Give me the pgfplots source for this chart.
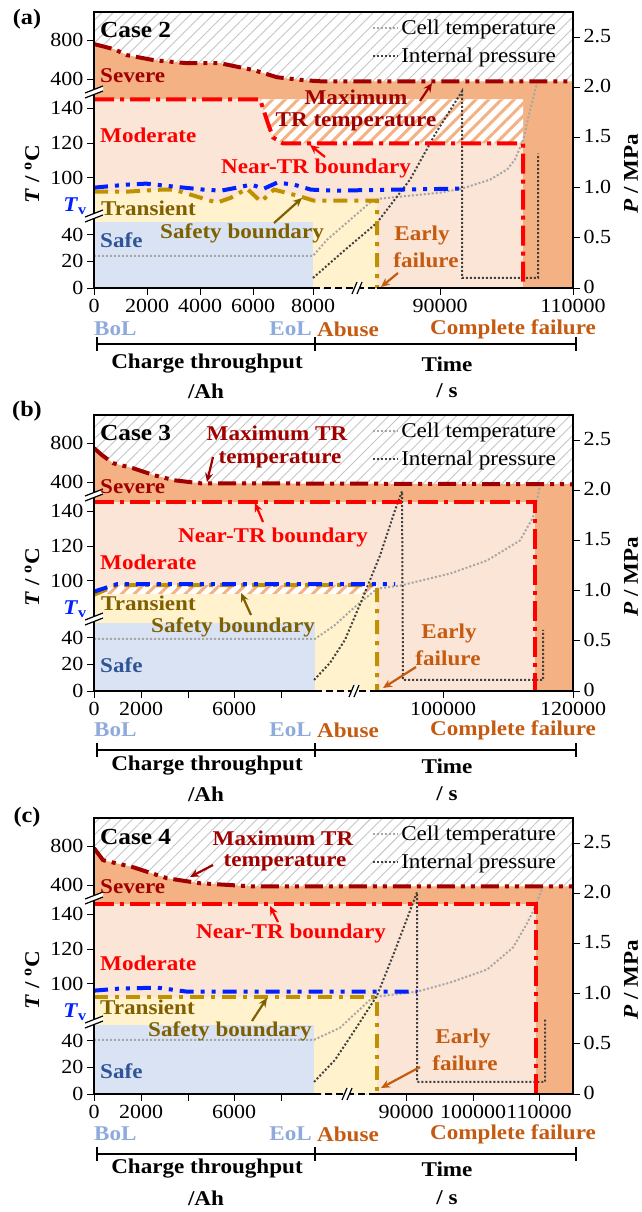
\documentclass[border=0pt]{standalone}
\usepackage{fontspec}
\setmainfont{Liberation Serif}[FakeStretch=1.1]
\usepackage{pgfplots}
\pgfplotsset{compat=1.18}
\usetikzlibrary{patterns.meta,arrows.meta}

\definecolor{salmon}{HTML}{F4B183}
\definecolor{peach}{HTML}{FBE5D6}
\definecolor{lyellow}{HTML}{FFF2CC}
\definecolor{lblue}{HTML}{DAE3F3}
\definecolor{dred}{HTML}{A00000}
\definecolor{tvblue}{HTML}{0020FF}
\definecolor{gold}{HTML}{BF9000}
\definecolor{dgold}{HTML}{7F6000}
\definecolor{safeblue}{HTML}{2F5597}
\definecolor{lifeblue}{HTML}{8FAADC}
\definecolor{burnt}{HTML}{C55A11}
\definecolor{ctgrey}{HTML}{A6A6A6}
\definecolor{prgrey}{HTML}{404040}

\newcommand\fs{\fontsize{21}{25}\selectfont}
\newcommand\ts{\fontsize{20}{24}\selectfont}

\tikzset{
  lab/.style={font=\fs\bfseries, inner sep=0pt},
  arr/.style={line width=2.2pt, -{Stealth[length=9pt,width=8pt]}},
}

\pgfplotsset{
  legend image code/.code={\draw[#1] (0pt,0pt) -- (25pt,0pt);},
  panel/.style={scale only axis, width=479pt, height=276pt,
    xmin=0, xmax=479, ymin=0, ymax=2.75, anchor=south west,
    axis line style={draw=none}, tick align=outside, major tick length=7pt,
    tick style={black, line width=0.8pt}, xtick pos=bottom, ytick pos=left,
    ytick={0,0.265,0.53,1.10,1.445,1.79,2.08,2.47},
    yticklabels={0,20,40,100,120,140,400,800},
    tick label style={font=\ts},
    xticklabel style={yshift=-1pt},
    legend style={at={(0.975,0.985)}, anchor=north east, draw=none, fill=none,
      font=\fs, row sep=8pt, nodes={inner sep=2pt}},
    legend cell align=left},
  rightax/.style={scale only axis, width=479pt, height=276pt,
    xmin=0, xmax=479, ymin=0, ymax=2.75, anchor=south west,
    hide x axis, axis y line*=right, y axis line style={draw=none},
    ytick={0,0.5,1,1.5,2,2.5}, yticklabels={0,0.5,1.0,1.5,2.0,2.5},
    tick align=outside, major tick length=7pt,
    tick style={black, line width=0.8pt}, tick label style={font=\ts},
    yticklabel style={yshift=1pt}},
  area/.style={forget plot, draw=none, fill=#1},
  hatchgrey/.style={forget plot, draw=none,
    pattern={Lines[angle=45,distance=8pt,line width=0.9pt]}, pattern color=gray!45},
  hatchorange/.style={forget plot, draw=none,
    pattern={Lines[angle=45,distance=9pt,line width=3pt]}, pattern color=salmon},
  maxtr/.style={forget plot, dred, line width=4pt,
    dash pattern=on 18pt off 6pt on 4pt off 6pt on 4pt off 6pt},
  neartr/.style={forget plot, red, line width=4pt,
    dash pattern=on 20pt off 6pt on 4pt off 6pt},
  tvline/.style={forget plot, tvblue, line width=4pt,
    dash pattern=on 14pt off 7pt on 4pt off 7pt on 4pt off 7pt},
  safety/.style={forget plot, gold, line width=4pt,
    dash pattern=on 14pt off 7pt on 4pt off 7pt},
  celltemp/.style={ctgrey, line width=2pt, dash pattern=on 2pt off 2pt},
  pressure/.style={prgrey, line width=2pt, dash pattern=on 2pt off 2pt},
}

% frame of one panel: #1 top, #2 EoL x, #3 failure x, #4 break x
\newcommand\frameit[4]{%
  \pgfmathsetmacro\bot{#1+276}
  \pgfmathsetmacro\ua{#1+77}
  \pgfmathsetmacro\ub{#1+201}
  \draw[line width=2.6pt, line join=miter] (94,\bot) -- (94,#1) -- (573,#1) -- (573,\bot);
  \draw[line width=2.6pt] (92.7,\bot) -- (#2,\bot);
  \draw[line width=2.6pt, dash pattern=on 7pt off 4pt] (#2,\bot) -- (#3,\bot);
  \draw[line width=2.6pt] (#3,\bot) -- (574.3,\bot);
  \fill[white] (#4-6,\bot+6) -- (#4-1,\bot-6) -- (#4+4,\bot-6) -- (#4-1,\bot+6) -- cycle;
  \draw[line width=1.2pt] (#4-6,\bot+6) -- (#4-1,\bot-6) (#4-1,\bot+6) -- (#4+4,\bot-6);
  \foreach \u in {\ua,\ub}{
    \fill[white] (85,\u+4) -- (103,\u-3) -- (103,\u+2) -- (85,\u+9) -- cycle;
    \draw[line width=1.2pt] (85,\u+4) -- (103,\u-3) (85,\u+9) -- (103,\u+2);
  }
  \node[lab, rotate=90] at (32,#1+162) {\textit{T} / \textsuperscript{o}C};
  \node[lab, rotate=90] at (631,#1+162) {\textit{P} / MPa};
  \node[lab, tvblue] at (75,#1+194) {\textit{T}\textsubscript{v}};
}

% labels under one panel: #1 status y, #2 bracket y, #3 line 1 y, #4 line 2 y
\newcommand\bottomit[4]{%
  \node[lab, lifeblue, anchor=west] at (94,#1) {BoL};
  \node[lab, lifeblue, anchor=east] at (312,#1) {EoL};
  \node[lab, burnt, anchor=west] at (317,#1) {Abuse};
  \node[lab, burnt, anchor=west] at (430,#1) {Complete failure};
  \draw[line width=1.4pt] (97,#2) -- (576,#2);
  \foreach \xx in {97,315,576} \draw[line width=1.4pt] (\xx,#2-7) -- (\xx,#2+7);
  \node[lab] at (207,#3) {Charge throughput};
  \node[lab] at (206,#4) {/Ah};
  \node[lab] at (447,#3) {Time};
  \node[lab] at (447,#4) {/ s};
}

\begin{document}
\begin{tikzpicture}
\useasboundingbox (0pt,0pt) rectangle (641pt,-1212pt);

% ---------------- (a) Case 2 ----------------
\begin{axis}[panel, at={(94pt,-288pt)},
  xtick={0,53,106,159,219,346,479},
  xticklabels={0,2000,4000,6000,8000,90000,110000}]
\addplot[area=white] coordinates {(0,2.75)(479,2.75)} \closedcycle;
\addplot[hatchgrey] coordinates {(0,2.75)(479,2.75)} \closedcycle;
\addplot[area=salmon] coordinates {(0,2.43)(20,2.38)(33,2.32)(60,2.27)(93,2.24)(126,2.24)(160,2.17)(183,2.10)(210,2.07)(226,2.06)(479,2.06)} \closedcycle;
\addplot[area=peach] coordinates {(0,1.88)(429,1.88)} \closedcycle;
\addplot[area=white] coordinates {(166,1.88)(429,1.88)(429,1.44)(189,1.44)(179,1.50)(174,1.64)} -- cycle;
\addplot[hatchorange] coordinates {(166,1.88)(429,1.88)(429,1.44)(189,1.44)(179,1.50)(174,1.64)} -- cycle;
\addplot[area=lyellow] coordinates {(0,0.96)(33,0.96)(67,0.98)(80,0.98)(123,0.85)(137,0.90)(153,0.99)(167,0.86)(180,0.98)(192,0.95)(207,0.91)(220,0.87)(283,0.87)} \closedcycle;
\addplot[area=lblue] coordinates {(0,0.66)(219,0.66)} \closedcycle;
\addplot[celltemp] coordinates {(0,0.32)(219,0.32)(233,0.48)(255,0.67)(277,0.86)(286,0.89)(316,0.92)(346,0.95)(368,0.99)(396,1.08)(413,1.18)(421,1.28)(429,1.47)(436,1.77)(443,2.04)};
\addlegendentry{Cell temperature}
\addplot[pressure] coordinates {(219,0.10)(251,0.38)(283,0.65)(316,1.08)(341,1.53)(368,1.96)(368,0.10)(444,0.10)(444,1.34)};
\addlegendentry{Internal pressure}
\addplot[neartr] coordinates {(0,1.88)(166,1.88)(174,1.64)(179,1.50)(189,1.44)(429,1.44)(429,0)};
\addplot[maxtr] coordinates {(0,2.43)(20,2.38)(33,2.32)(60,2.27)(93,2.24)(126,2.24)(160,2.17)(183,2.10)(210,2.07)(226,2.06)(479,2.06)};
\addplot[safety] coordinates {(0,0.96)(33,0.96)(67,0.98)(80,0.98)(123,0.85)(137,0.90)(153,0.99)(167,0.86)(180,0.98)(192,0.95)(207,0.91)(220,0.87)(283,0.87)(283,0)};
\addplot[tvline] coordinates {(0,1.00)(33,1.03)(52,1.04)(80,1.01)(110,0.98)(127,0.97)(143,1.00)(157,1.03)(170,0.99)(183,1.05)(200,1.03)(217,0.98)(240,0.97)(300,0.98)(368,0.99)};
\end{axis}
\begin{axis}[rightax, at={(94pt,-288pt)}]
\end{axis}

% ---------------- (b) Case 3 ----------------
\begin{axis}[panel, at={(94pt,-691pt)},
  xtick={0,47,94,140,187,349,479},
  xticklabels={0,2000,,6000,,100000,120000}]
\addplot[area=white] coordinates {(0,2.75)(479,2.75)} \closedcycle;
\addplot[hatchgrey] coordinates {(0,2.75)(479,2.75)} \closedcycle;
\addplot[area=salmon] coordinates {(0,2.42)(8,2.35)(19,2.27)(39,2.22)(60,2.15)(80,2.10)(106,2.07)(479,2.06)} \closedcycle;
\addplot[area=peach] coordinates {(0,1.88)(441,1.88)} \closedcycle;
\addplot[area=white] coordinates {(0,0.965)(283,0.965)(283,1.055)(23,1.055)(0,0.97)} -- cycle;
\addplot[hatchorange] coordinates {(0,0.965)(283,0.965)(283,1.055)(23,1.055)(0,0.97)} -- cycle;
\addplot[area=lyellow] coordinates {(0,0.965)(283,0.965)} \closedcycle;
\addplot[area=lblue] coordinates {(0,0.68)(221,0.68)} \closedcycle;
\addplot[celltemp] coordinates {(0,0.52)(221,0.52)(240,0.65)(260,0.83)(283,1.02)(306,1.05)(356,1.17)(393,1.30)(426,1.50)(439,1.73)(443,1.90)(446,2.05)};
\addlegendentry{Cell temperature}
\addplot[pressure] coordinates {(220,0.11)(236,0.28)(251,0.51)(268,0.91)(286,1.35)(301,1.80)(308,1.99)(309,0.11)(449,0.11)(449,0.61)};
\addlegendentry{Internal pressure}
\addplot[neartr] coordinates {(0,1.88)(441,1.88)(441,0)};
\addplot[maxtr] coordinates {(0,2.42)(8,2.35)(19,2.27)(39,2.22)(60,2.15)(80,2.10)(106,2.07)(479,2.06)};
\addplot[safety] coordinates {(0,0.96)(23,1.055)(283,1.055)(283,0)};
\addplot[tvline] coordinates {(0,0.99)(23,1.065)(301,1.065)};
\end{axis}
\begin{axis}[rightax, at={(94pt,-691pt)}]
\end{axis}

% ---------------- (c) Case 4 ----------------
\begin{axis}[panel, at={(94pt,-1094pt)},
  xtick={0,47,94,140,187,312,379,445},
  xticklabels={0,2000,,6000,,90000,100000,110000}]
\addplot[area=white] coordinates {(0,2.75)(479,2.75)} \closedcycle;
\addplot[hatchgrey] coordinates {(0,2.75)(479,2.75)} \closedcycle;
\addplot[area=salmon] coordinates {(0,2.45)(9,2.33)(39,2.26)(73,2.15)(106,2.10)(156,2.07)(479,2.07)} \closedcycle;
\addplot[area=peach] coordinates {(0,1.89)(442,1.89)} \closedcycle;
\addplot[area=lyellow] coordinates {(0,0.97)(283,0.97)} \closedcycle;
\addplot[area=lblue] coordinates {(0,0.69)(220,0.69)} \closedcycle;
\addplot[celltemp] coordinates {(0,0.54)(220,0.54)(246,0.66)(275,0.93)(283,0.97)(323,1.02)(356,1.11)(393,1.24)(419,1.46)(433,1.70)(441,1.86)(449,2.07)};
\addlegendentry{Cell temperature}
\addplot[pressure] coordinates {(220,0.12)(241,0.34)(261,0.64)(283,0.98)(301,1.43)(323,2.01)(323,0.12)(451,0.12)(451,0.74)};
\addlegendentry{Internal pressure}
\addplot[neartr] coordinates {(0,1.89)(442,1.89)(442,0)};
\addplot[maxtr] coordinates {(0,2.45)(9,2.33)(39,2.26)(73,2.15)(106,2.10)(156,2.07)(479,2.07)};
\addplot[safety] coordinates {(0,0.97)(283,0.97)(283,0)};
\addplot[tvline] coordinates {(0,1.03)(25,1.05)(63,1.06)(93,1.02)(323,1.02)};
\end{axis}
\begin{axis}[rightax, at={(94pt,-1094pt)}]
\end{axis}

% ---------------- annotations (pixel frame) ----------------
\begin{scope}[x=1pt,y=-1pt]
\frameit{12}{313}{377}{358}
\frameit{415}{315}{377}{355}
\frameit{818}{314}{376}{348}
\bottomit{329}{344}{364}{391}
\bottomit{730}{750}{766}{794}
\bottomit{1134}{1154}{1169}{1198}

\node[lab, font=\fontsize{22}{26}\selectfont\bfseries] at (27,19) {(a)};
\node[lab, font=\fontsize{22}{26}\selectfont\bfseries] at (27,411) {(b)};
\node[lab, font=\fontsize{22}{26}\selectfont\bfseries] at (27,817) {(c)};

% (a)
\node[lab, font=\fontsize{23}{27}\selectfont\bfseries, anchor=west] at (100,30) {Case 2};
\node[lab, dred, anchor=west] at (100,76) {Severe};
\node[lab, red, anchor=west] at (100,135) {Moderate};
\node[lab, dred] at (356,97) {Maximum};
\node[lab, dred] at (356,122) {TR temperature};
\draw[arr, dred] (420,101) -- (432,83);
\node[lab, red, anchor=west] at (221,168) {Near-TR boundary};
\draw[arr, red] (325,157) -- (310,145);
\node[lab, dgold, anchor=west] at (101,208) {Transient};
\node[lab, safeblue, anchor=west] at (100,240) {Safe};
\node[lab, dgold, anchor=west] at (160,233) {Safety boundary};
\draw[arr, dgold] (274,223) -- (302,198);
\node[lab, burnt] at (422,235) {Early};
\node[lab, burnt] at (426,260) {failure};
\draw[arr, burnt] (398,273) -- (381,287);

% (b)
\node[lab, font=\fontsize{23}{27}\selectfont\bfseries, anchor=west] at (100,433) {Case 3};
\node[lab, dred] at (277,433) {Maximum TR};
\node[lab, dred] at (280,460) {temperature};
\draw[arr, dred] (213,457) -- (207,482);
\node[lab, dred, anchor=west] at (100,487) {Severe};
\node[lab, red] at (273,537) {Near-TR boundary};
\draw[arr, red] (263,522) -- (255,503);
\node[lab, red, anchor=west] at (100,562) {Moderate};
\node[lab, dgold, anchor=west] at (101,603) {Transient};
\node[lab, dgold, anchor=west] at (151,627) {Safety boundary};
\draw[arr, dgold] (251,615) -- (241,593);
\node[lab, safeblue, anchor=west] at (100,665) {Safe};
\node[lab, burnt] at (449,633) {Early};
\node[lab, burnt] at (448,658) {failure};
\draw[arr, burnt] (416,667) -- (383,688);

% (c)
\node[lab, font=\fontsize{23}{27}\selectfont\bfseries, anchor=west] at (100,837) {Case 4};
\node[lab, dred] at (283,838) {Maximum TR};
\node[lab, dred] at (285,863) {temperature};
\draw[arr, dred] (213,865) -- (190,877);
\node[lab, dred, anchor=west] at (100,887) {Severe};
\node[lab, red] at (291,933) {Near-TR boundary};
\draw[arr, red] (278,922) -- (270,906);
\node[lab, red, anchor=west] at (100,963) {Moderate};
\node[lab, dgold, anchor=west] at (100,1007) {Transient};
\node[lab, dgold] at (230,1031) {Safety boundary};
\draw[arr, dgold] (252,1021) -- (267,998);
\node[lab, safeblue, anchor=west] at (100,1071) {Safe};
\node[lab, burnt] at (463,1038) {Early};
\node[lab, burnt] at (465,1063) {failure};
\draw[arr, burnt] (420,1067) -- (381,1088);
\end{scope}
\end{tikzpicture}
\end{document}
